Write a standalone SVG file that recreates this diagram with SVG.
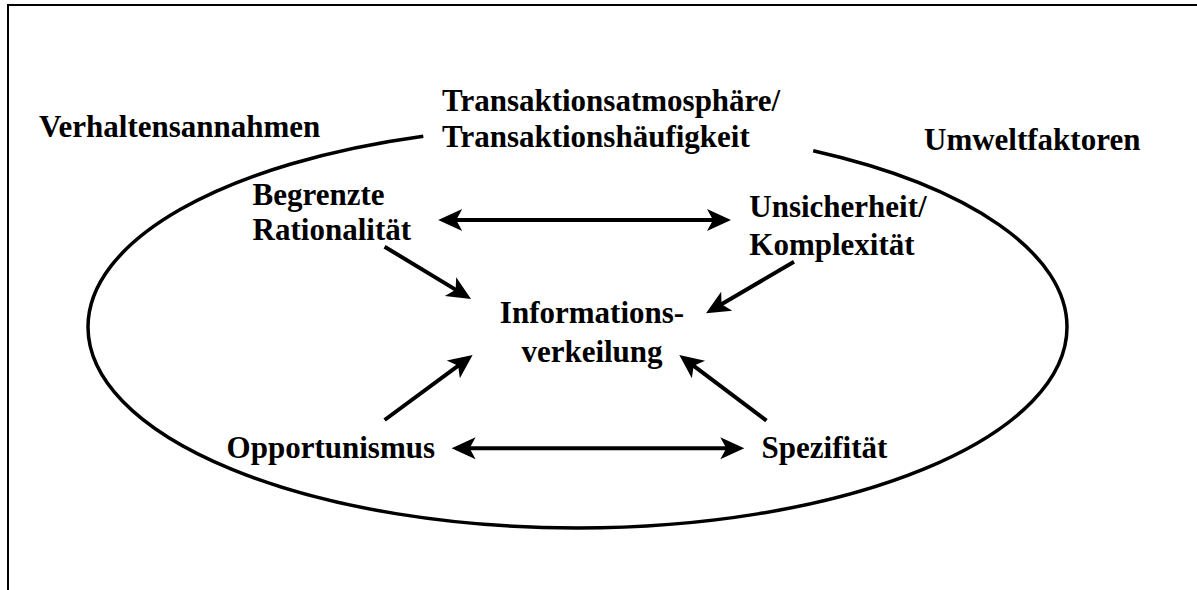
<svg xmlns="http://www.w3.org/2000/svg" width="1197" height="590" viewBox="0 0 1197 590">
<style>
  .lbl { font-family: "Liberation Serif", "Times New Roman", serif; font-weight: bold; font-size: 31px; fill: #000; }
  .frame { stroke: #000; stroke-width: 2; fill: none; }
  .oval { stroke: #000; stroke-width: 3.5; fill: none; }
  .conn { stroke: #000; stroke-width: 4; fill: none; }
</style>
<defs>
  <marker id="ah" markerUnits="userSpaceOnUse" orient="auto-start-reverse" refX="0" refY="0" markerWidth="30" markerHeight="30" overflow="visible">
    <path d="M6,0 L-18,-11 L-12,0 L-18,11 Z" fill="#000"/>
  </marker>
</defs>
<rect width="1197" height="590" fill="#fff"/>
<g id="frame">
  <path class="frame" d="M8,590 L8,5 L1197,5"/>
</g>
<g id="boundary">
  <path class="oval" d="M423.3,136.2 A489.5,201 0 0 0 88,327 A489.5,201 0 0 0 1067,327 A489.5,201 0 0 0 813.2,150.8"/>
</g>
<g id="verhaltensannahmen"><text class="lbl" x="39" y="137">Verhaltensannahmen</text></g>
<g id="transaktion">
  <text class="lbl" x="442" y="110.7">Transaktionsatmosphäre/</text>
  <text class="lbl" x="442" y="146.7">Transaktionshäufigkeit</text>
</g>
<g id="umweltfaktoren"><text class="lbl" x="924" y="150">Umweltfaktoren</text></g>
<g id="rationalitaet">
  <text class="lbl" x="252.6" y="205">Begrenzte</text>
  <text class="lbl" x="252.6" y="240">Rationalität</text>
</g>
<g id="unsicherheit">
  <text class="lbl" x="749.3" y="217">Unsicherheit/</text>
  <text class="lbl" x="749.3" y="255">Komplexität</text>
</g>
<g id="information">
  <text class="lbl" x="592" y="323.3" text-anchor="middle">Informations-</text>
  <text class="lbl" x="592" y="361.7" text-anchor="middle">verkeilung</text>
</g>
<g id="opportunismus"><text class="lbl" x="226.6" y="458.3">Opportunismus</text></g>
<g id="spezifitaet"><text class="lbl" x="761.6" y="458.3">Spezifität</text></g>
<g id="connectors">
  <line class="conn" x1="444.2" y1="220" x2="725" y2="220" marker-start="url(#ah)" marker-end="url(#ah)"/>
  <line class="conn" x1="384.6" y1="246.7" x2="465.9" y2="295.9" marker-end="url(#ah)"/>
  <line class="conn" x1="794" y1="261.7" x2="711.2" y2="310.3" marker-end="url(#ah)"/>
  <line class="conn" x1="384.6" y1="420" x2="467.8" y2="358.6" marker-end="url(#ah)"/>
  <line class="conn" x1="766.5" y1="420.7" x2="684.1" y2="358.6" marker-end="url(#ah)"/>
  <line class="conn" x1="457.6" y1="448.3" x2="738.3" y2="448.3" marker-start="url(#ah)" marker-end="url(#ah)"/>
</g>
</svg>
